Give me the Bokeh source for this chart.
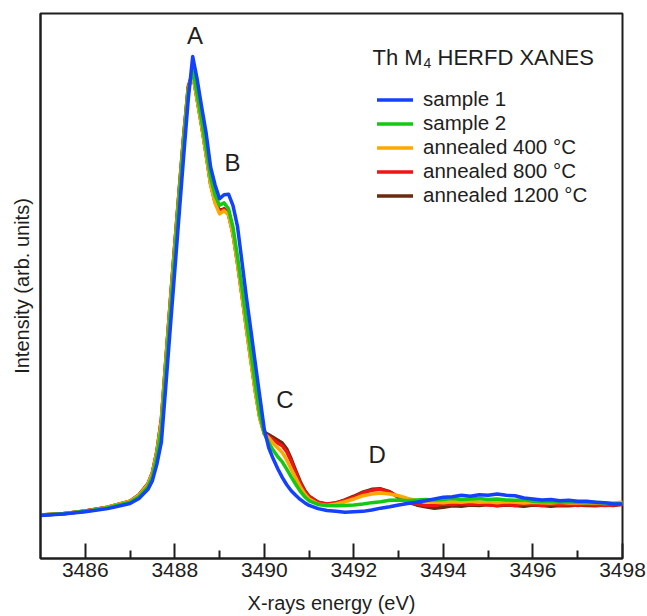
from bokeh.plotting import figure
from bokeh.models import Range1d, FixedTicker, Legend, LegendItem, Label
from bokeh.embed import file_html
from bokeh.resources import INLINE

# ---- data ----
energy = [3485.0, 3485.5, 3486.0, 3486.5, 3487.0, 3487.2, 3487.4,
          3487.5, 3487.6, 3487.7, 3487.8, 3487.9, 3488.0, 3488.1, 3488.2, 3488.3, 3488.4,
          3488.5, 3488.6, 3488.7, 3488.8, 3488.9, 3489.0, 3489.1, 3489.2, 3489.3, 3489.4,
          3489.5, 3489.6, 3489.7, 3489.8, 3489.9, 3490.0, 3490.1, 3490.2, 3490.3, 3490.4,
          3490.5, 3490.6, 3490.7, 3490.8, 3490.9, 3491.0,
          3491.2, 3491.4, 3491.6, 3491.8, 3492.0, 3492.2, 3492.4, 3492.6, 3492.8, 3493.0,
          3493.2, 3493.4, 3493.6, 3493.8, 3494.0, 3494.2, 3494.4, 3494.6, 3494.8, 3495.0,
          3495.2, 3495.4, 3495.6, 3495.8, 3496.0, 3496.2, 3496.4, 3496.6, 3496.8, 3497.0,
          3497.2, 3497.4, 3497.6, 3497.8, 3498.0]

sample1 = [0.000, 0.003, 0.008, 0.015, 0.026, 0.037, 0.057,
           0.076, 0.112, 0.160, 0.283, 0.410, 0.534, 0.660, 0.785, 0.906, 1.000,
           0.950, 0.890, 0.833, 0.759, 0.720, 0.690, 0.699, 0.700, 0.675, 0.630,
           0.553, 0.475, 0.403, 0.330, 0.258, 0.187, 0.147, 0.123, 0.102, 0.083,
           0.067, 0.054, 0.044, 0.035, 0.028, 0.022,
           0.015, 0.011, 0.009, 0.007, 0.008, 0.009, 0.012, 0.016, 0.019, 0.023,
           0.026, 0.029, 0.032, 0.036, 0.040, 0.041, 0.044, 0.042, 0.045, 0.044,
           0.047, 0.044, 0.043, 0.038, 0.036, 0.034, 0.035, 0.032, 0.033, 0.031,
           0.031, 0.029, 0.028, 0.025, 0.025]

sample2 = [0.001, 0.004, 0.009, 0.017, 0.029, 0.041, 0.063,
           0.085, 0.128, 0.190, 0.318, 0.445, 0.570, 0.695, 0.815, 0.925, 0.972,
           0.918, 0.862, 0.800, 0.737, 0.697, 0.676, 0.681, 0.668, 0.628, 0.565,
           0.497, 0.425, 0.355, 0.285, 0.220, 0.178, 0.158, 0.142, 0.128, 0.117,
           0.101, 0.084, 0.068, 0.053, 0.041, 0.032,
           0.024, 0.022, 0.021, 0.022, 0.023, 0.025, 0.028, 0.030, 0.033, 0.034,
           0.032, 0.034, 0.035, 0.034, 0.035, 0.037, 0.035, 0.036, 0.037, 0.035,
           0.036, 0.034, 0.033, 0.034, 0.031, 0.030, 0.030, 0.029, 0.030, 0.029,
           0.028, 0.029, 0.027, 0.026, 0.025]

annealed400 = [0.001, 0.004, 0.009, 0.018, 0.031, 0.044, 0.068,
               0.092, 0.138, 0.205, 0.335, 0.462, 0.585, 0.705, 0.822, 0.928, 0.962,
               0.905, 0.848, 0.785, 0.720, 0.680, 0.657, 0.664, 0.655, 0.612, 0.548,
               0.478, 0.405, 0.335, 0.268, 0.210, 0.178, 0.169, 0.157, 0.147, 0.137,
               0.121, 0.101, 0.082, 0.063, 0.047, 0.036,
               0.025, 0.022, 0.025, 0.030, 0.036, 0.043, 0.047, 0.049, 0.047, 0.043,
               0.037, 0.032, 0.030, 0.029, 0.028, 0.030, 0.029, 0.031, 0.029, 0.030,
               0.028, 0.030, 0.029, 0.027, 0.029, 0.028, 0.027, 0.029, 0.027, 0.028,
               0.027, 0.028, 0.026, 0.027, 0.029]

annealed800 = [0.001, 0.004, 0.010, 0.018, 0.031, 0.045, 0.069,
               0.094, 0.140, 0.210, 0.340, 0.468, 0.592, 0.712, 0.830, 0.935, 0.965,
               0.908, 0.850, 0.788, 0.723, 0.683, 0.662, 0.667, 0.656, 0.613, 0.550,
               0.480, 0.408, 0.338, 0.270, 0.212, 0.178, 0.172, 0.165, 0.158, 0.152,
               0.139, 0.118, 0.094, 0.071, 0.053, 0.041,
               0.029, 0.025, 0.028, 0.033, 0.040, 0.049, 0.055, 0.057, 0.051, 0.039,
               0.030, 0.025, 0.022, 0.022, 0.025, 0.024, 0.026, 0.024, 0.025, 0.023,
               0.022, 0.024, 0.022, 0.025, 0.024, 0.022, 0.025, 0.023, 0.024, 0.022,
               0.024, 0.023, 0.022, 0.023, 0.024]

annealed1200 = [0.001, 0.004, 0.010, 0.018, 0.031, 0.045, 0.069,
                0.093, 0.139, 0.208, 0.338, 0.465, 0.590, 0.710, 0.828, 0.932, 0.962,
                0.906, 0.849, 0.787, 0.722, 0.683, 0.664, 0.668, 0.657, 0.615, 0.552,
                0.482, 0.410, 0.340, 0.272, 0.214, 0.181, 0.176, 0.170, 0.164, 0.158,
                0.145, 0.123, 0.098, 0.074, 0.055, 0.042,
                0.029, 0.024, 0.027, 0.034, 0.042, 0.051, 0.057, 0.058, 0.052, 0.040,
                0.029, 0.023, 0.019, 0.016, 0.018, 0.021, 0.020, 0.023, 0.022, 0.024,
                0.021, 0.023, 0.022, 0.020, 0.023, 0.022, 0.020, 0.022, 0.021, 0.023,
                0.022, 0.021, 0.023, 0.022, 0.025]

series_names = ["sample 1", "sample 2", "annealed 400 \u00b0C", "annealed 800 \u00b0C", "annealed 1200 \u00b0C"]
series_colors = ["#1440ff", "#14c814", "#ffa800", "#f01414", "#6a2a0e"]

x_ticks = [3486, 3488, 3490, 3492, 3494, 3496, 3498]
x_minor = [3487, 3489, 3491, 3493, 3495, 3497]

peak_names = ["A", "B", "C", "D"]
peak_x = [3488.45, 3489.29, 3490.46, 3492.52]
peak_y = [1.046, 0.770, 0.253, 0.133]

FONT = "Liberation Sans"
INK = "#1e1e1e"

p = figure(width=647, height=616,
           x_range=Range1d(3485, 3498), y_range=Range1d(-0.0937, 1.0937),
           output_backend="svg", toolbar_location=None,
           min_border_left=40, min_border_right=25, min_border_top=13, min_border_bottom=58)
p.background_fill_color = "white"
p.border_fill_color = "white"
p.outline_line_color = INK
p.outline_line_width = 2
p.xgrid.visible = False
p.ygrid.visible = False

# x axis
xa = p.xaxis[0]
xa.ticker = FixedTicker(ticks=x_ticks, minor_ticks=x_minor)
xa.major_tick_in = 15
xa.major_tick_out = 0
xa.minor_tick_in = 8
xa.minor_tick_out = 0
xa.major_tick_line_width = 2
xa.minor_tick_line_width = 2
xa.major_tick_line_color = INK
xa.minor_tick_line_color = INK
xa.axis_line_width = 2
xa.axis_line_color = INK
xa.major_label_text_font = FONT
xa.major_label_text_font_size = "21px"
xa.major_label_text_color = INK
xa.major_label_standoff = 4
xa.axis_label = "X-rays energy (eV)"
xa.axis_label_text_font = FONT
xa.axis_label_text_font_size = "20px"
xa.axis_label_text_font_style = "normal"
xa.axis_label_text_color = INK
xa.axis_label_standoff = 12

# y axis
ya = p.yaxis[0]
ya.ticker = FixedTicker(ticks=[])
ya.major_tick_line_color = None
ya.minor_tick_line_color = None
ya.major_label_standoff = 0
ya.axis_line_width = 2
ya.axis_line_color = INK
ya.axis_label = "Intensity (arb. units)"
ya.axis_label_text_font = FONT
ya.axis_label_text_font_size = "20px"
ya.axis_label_text_font_style = "normal"
ya.axis_label_text_color = INK
ya.axis_label_standoff = 8

all_series = [sample1, sample2, annealed400, annealed800, annealed1200]
renderers = [None] * 5
for i in [4, 3, 2, 1, 0]:
    renderers[i] = p.line(energy, all_series[i], line_color=series_colors[i], line_width=3.5,
                          line_join="round", line_cap="round")

legend = Legend(items=[LegendItem(label=series_names[i], renderers=[renderers[i]]) for i in range(5)],
                location=(337, 351))
legend.padding = 0
legend.margin = 0
legend.spacing = 0
legend.glyph_width = 36
legend.glyph_height = 23
legend.label_height = 23
legend.label_standoff = 10
legend.label_text_font = FONT
legend.label_text_font_size = "20.5px"
legend.label_text_color = INK
legend.border_line_color = None
legend.background_fill_alpha = 0
p.add_layout(legend)

# legend title with subscript
p.add_layout(Label(x=332, y=501, x_units="screen", y_units="screen", text="Th M",
                   text_font=FONT, text_font_size="22px", text_color=INK,
                   text_baseline="alphabetic"))
p.add_layout(Label(x=383, y=496, x_units="screen", y_units="screen", text="4",
                   text_font=FONT, text_font_size="14px", text_color=INK,
                   text_baseline="alphabetic"))
p.add_layout(Label(x=397, y=501, x_units="screen", y_units="screen", text="HERFD XANES",
                   text_font=FONT, text_font_size="22px", text_color=INK,
                   text_baseline="alphabetic"))

for name, px, py in zip(peak_names, peak_x, peak_y):
    p.add_layout(Label(x=px, y=py, text=name, text_font=FONT, text_font_size="24px",
                       text_color=INK, text_align="center", text_baseline="middle"))

open("out.html", "w").write(file_html(p, INLINE))
